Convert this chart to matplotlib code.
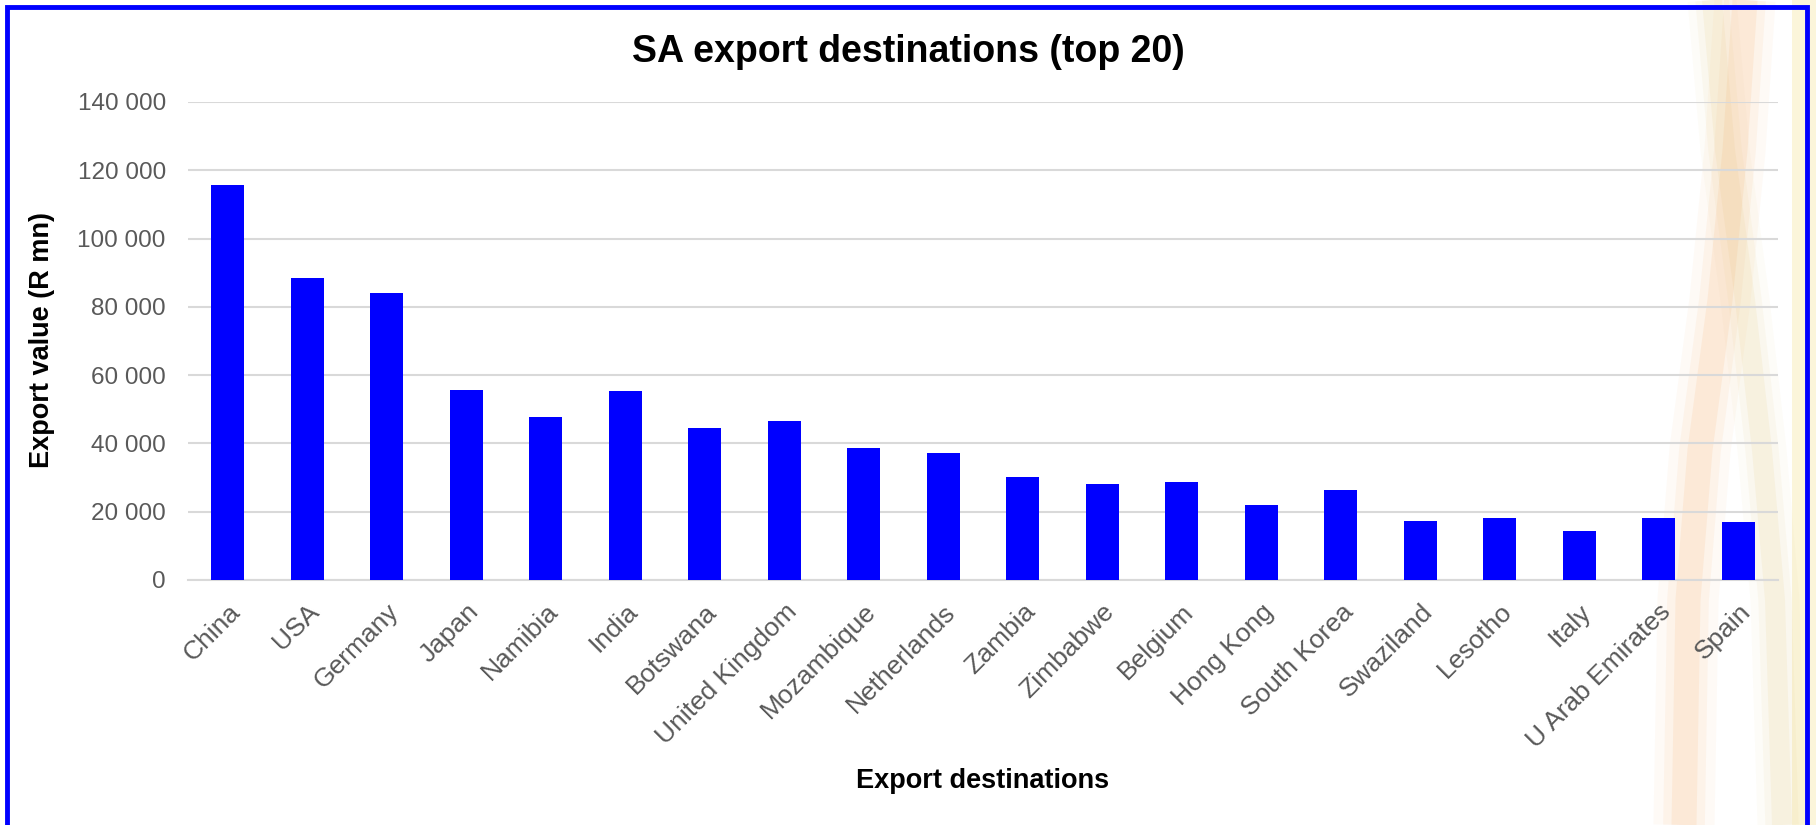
import matplotlib
matplotlib.use("Agg")
import matplotlib.pyplot as plt
from matplotlib.lines import Line2D
from matplotlib.patches import Rectangle
from matplotlib.ticker import FuncFormatter

plt.rcParams['font.family'] = ['Liberation Sans', 'DejaVu Sans']

# data (R mn)
countries = ['China', 'USA', 'Germany', 'Japan', 'Namibia', 'India', 'Botswana',
             'United Kingdom', 'Mozambique', 'Netherlands', 'Zambia', 'Zimbabwe',
             'Belgium', 'Hong Kong', 'South Korea', 'Swaziland', 'Lesotho', 'Italy',
             'U Arab Emirates', 'Spain']
export_values = [115800, 88400, 84100, 55700, 47800, 55300, 44600, 46500, 38700, 37200,
                 30200, 28200, 28700, 21900, 26300, 17300, 18200, 14300, 18200, 17000]
y_ticks = [0, 20000, 40000, 60000, 80000, 100000, 120000, 140000]

W, H = 1816, 825
fig = plt.figure(figsize=(W / 100, H / 100), dpi=100)
fig.patch.set_facecolor('white')

# faded background decoration on the right (figure pixel coords -> fraction)
def fx(x):
    return x / W

def fy(y):
    return 1 - y / H

fig.add_artist(Rectangle((fx(1792), 0), fx(W - 1792), 1, transform=fig.transFigure,
                         facecolor='#fbf5da', edgecolor='none', zorder=-3))
strand_y = [0, 150, 300, 450, 600, 825]
strand_a_x = [1745, 1735, 1720, 1700, 1688, 1684]
strand_b_x = [1712, 1725, 1745, 1762, 1775, 1782]
for lw, a in [(44, 0.05), (30, 0.08), (18, 0.12)]:
    fig.add_artist(Line2D([fx(v) for v in strand_b_x], [fy(v) for v in strand_y],
                          transform=fig.transFigure, color='#e3c77a', lw=lw * 0.8, alpha=a,
                          solid_capstyle='butt', zorder=-2))
    fig.add_artist(Line2D([fx(v) for v in strand_a_x], [fy(v) for v in strand_y],
                          transform=fig.transFigure, color='#f5a35a', lw=lw, alpha=a,
                          solid_capstyle='butt', zorder=-2))

ax = fig.add_axes([188 / W, 1 - 580 / H, (1778 - 188) / W, (580 - 102) / H])
ax.set_facecolor('none')

x = range(len(countries))
ax.bar(x, export_values, width=0.41, color='#0000ff', zorder=3)

ax.set_xlim(-0.5, len(countries) - 0.5)
ax.set_ylim(0, 140000)
ax.set_yticks(y_ticks)
ax.yaxis.set_major_formatter(FuncFormatter(lambda v, p: f"{int(v):,}".replace(',', ' ')))
ax.grid(axis='y', color='#d9d9d9', linewidth=1.5, zorder=0)
ax.set_axisbelow(True)
for s in ['top', 'right', 'left']:
    ax.spines[s].set_visible(False)
ax.spines['bottom'].set_color('#d9d9d9')
ax.spines['bottom'].set_linewidth(1.5)

ax.set_xticks(list(x))
ax.set_xticklabels(countries, rotation=45, ha='right', rotation_mode='anchor')
ax.tick_params(axis='both', length=0, labelcolor='#595959')
ax.tick_params(axis='x', pad=14, labelsize=19)
ax.tick_params(axis='y', pad=16, labelsize=17.5)

fig.text(908 / W, fy(52), 'SA export destinations (top 20)', ha='center', va='center',
         fontsize=27, fontweight='bold', color='black')
fig.text(42 / W, fy(340), 'Export value (R mn)', ha='center', va='center', rotation=90,
         fontsize=19.5, fontweight='bold', color='black')
fig.text(983 / W, fy(781), 'Export destinations', ha='center', va='center',
         fontsize=19.5, fontweight='bold', color='black')

# blue frame round the chart
fig.add_artist(Rectangle((fx(7), fy(830)), fx(1807 - 7), fy(7) - fy(830),
                         transform=fig.transFigure, fill=False, edgecolor='#0000ff',
                         linewidth=3.5, zorder=5))

fig.savefig('out.png', dpi=100)
